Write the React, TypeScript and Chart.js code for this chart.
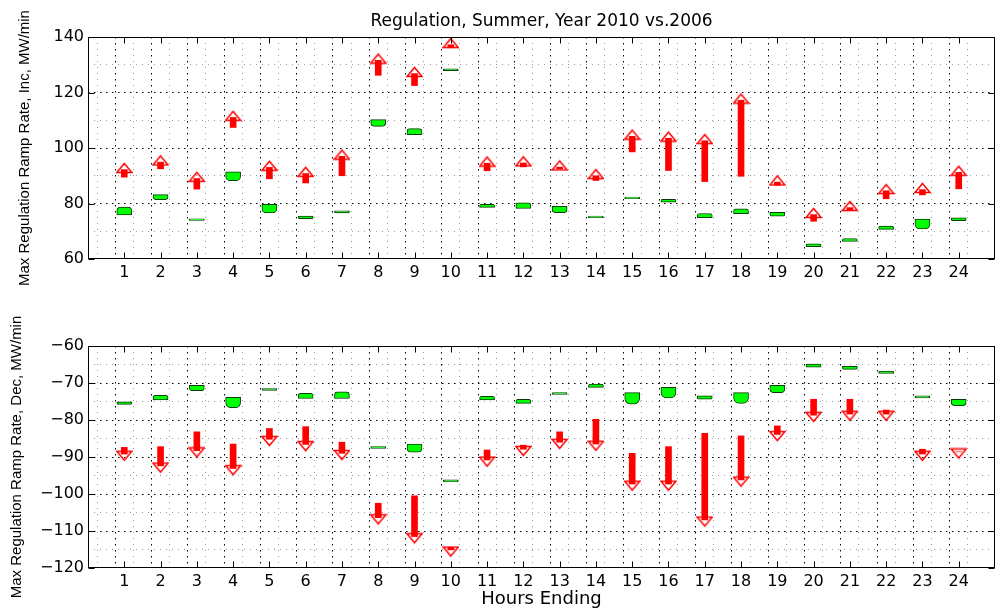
import React, { useEffect, useRef } from 'react';
import { Chart, registerables } from 'chart.js';

Chart.register(...registerables);

// ---------- data ----------
const HOURS = [1, 2, 3, 4, 5, 6, 7, 8, 9, 10, 11, 12, 13, 14, 15, 16, 17, 18, 19, 20, 21, 22, 23, 24];

const TITLE = 'Regulation, Summer, Year 2010 vs.2006';
const INC_Y_LABEL = 'Max Regulation Ramp Rate, Inc, MW/min';
const DEC_Y_LABEL = 'Max Regulation Ramp Rate, Dec, MW/min';
const X_LABEL = 'Hours Ending';

const INC_Y_TICKS = [60, 80, 100, 120, 140];
const DEC_Y_TICKS = [-120, -110, -100, -90, -80, -70, -60];

// green glyphs (start -> end, pointed side at end)
const INC_GREEN_START = [75.9, 83.2, 73.9, 91.4, 79.7, 75.5, 77.4, 110.2, 104.8, 127.9, 78.6, 78.2, 79.0, 74.9, 81.7, 80.5, 74.9, 76.3, 76.8, 64.4, 66.3, 70.7, 74.4, 74.8];
const INC_GREEN_END = [78.7, 81.4, 74.5, 88.2, 76.6, 74.5, 76.6, 107.8, 107.0, 128.5, 79.7, 80.2, 76.7, 75.5, 82.3, 81.5, 76.4, 78.1, 75.4, 65.5, 67.4, 71.9, 70.8, 73.8];

// red arrows (start -> tip)
const INC_RED_START = [89.5, 92.5, 85.2, 107.4, 88.9, 87.4, 90.0, 126.2, 122.5, 136.3, 91.8, 93.2, 92.4, 88.3, 98.6, 91.9, 87.9, 89.8, 86.6, 73.6, 77.6, 81.7, 83.1, 85.3];
const INC_RED_END = [94.6, 97.3, 91.4, 113.4, 95.4, 93.2, 99.4, 134.0, 129.2, 139.6, 96.9, 97.0, 95.5, 92.4, 106.6, 105.9, 105.0, 119.6, 90.1, 78.4, 80.9, 87.0, 87.4, 93.6];

const DEC_GREEN_START = [-75.1, -74.6, -70.6, -73.9, -71.5, -74.2, -74.2, -87.2, -86.5, -96.2, -74.6, -75.5, -73.1, -71.2, -72.6, -71.2, -73.5, -72.6, -70.6, -65.7, -65.5, -67.4, -73.5, -74.4];
const DEC_GREEN_END = [-75.8, -73.3, -72.1, -76.7, -72.0, -72.8, -72.4, -87.7, -88.7, -96.7, -73.6, -74.4, -72.6, -70.3, -75.7, -74.0, -74.4, -75.5, -72.6, -64.9, -66.3, -66.8, -74.0, -76.1];

const DEC_RED_START = [-87.4, -87.2, -83.2, -86.5, -82.3, -81.8, -86.0, -102.5, -100.5, -114.4, -88.1, -86.8, -83.2, -79.8, -89.0, -87.2, -83.6, -84.3, -81.6, -74.4, -74.4, -77.3, -87.9, -88.6];
const DEC_RED_END = [-91.0, -94.2, -90.1, -94.9, -87.0, -88.4, -90.8, -108.2, -113.3, -116.9, -92.6, -89.7, -87.8, -88.3, -99.1, -99.1, -108.8, -98.0, -85.7, -80.5, -80.2, -80.2, -91.0, -90.4];

// ---------- styling helpers ----------
const TICK_FONT = { family: 'DejaVu Sans', size: 16, weight: 'normal' as const };

function makeHead(up: boolean): HTMLCanvasElement {
  const c = document.createElement('canvas');
  c.width = 17;
  c.height = 22;
  const g = c.getContext('2d')!;
  g.strokeStyle = '#ff0000';
  g.lineWidth = 1.5;
  g.beginPath();
  if (up) {
    g.moveTo(8.5, 11.5);
    g.lineTo(16, 20.5);
    g.lineTo(1, 20.5);
  } else {
    g.moveTo(8.5, 10.5);
    g.lineTo(16, 1.5);
    g.lineTo(1, 1.5);
  }
  g.closePath();
  g.stroke();
  return c;
}

function fmtTick(v: number): string {
  return v < 0 ? '\u2212' + Math.abs(v) : String(v);
}

function boxPlugin(yMajor: number[]) {
  return {
    id: 'matlabBox',
    afterDraw(chart: any) {
      const { ctx, chartArea: a, scales } = chart;
      const x = scales.x;
      const y = scales.y;
      ctx.save();
      ctx.strokeStyle = '#000';
      ctx.lineWidth = 1;
      ctx.setLineDash([]);
      const L = Math.round(a.left) + 0.5;
      const R = Math.round(a.right) - 0.5;
      const T = Math.round(a.top) + 0.5;
      const B = Math.round(a.bottom) - 0.5;
      ctx.strokeRect(L, T, R - L, B - T);
      const len = 6;
      ctx.beginPath();
      HOURS.forEach((h) => {
        const px = Math.round(x.getPixelForValue(h)) + 0.5;
        ctx.moveTo(px, B);
        ctx.lineTo(px, B - len);
        ctx.moveTo(px, T);
        ctx.lineTo(px, T + len);
      });
      yMajor.forEach((v) => {
        const py = Math.round(y.getPixelForValue(v)) + 0.5;
        ctx.moveTo(L, py);
        ctx.lineTo(L + len, py);
        ctx.moveTo(R, py);
        ctx.lineTo(R - len, py);
      });
      ctx.stroke();
      ctx.restore();
    },
  };
}

interface PanelSpec {
  greenStart: number[];
  greenEnd: number[];
  redStart: number[];
  redEnd: number[];
  headDepth: number;
  up: boolean;
  yMin: number;
  yMax: number;
  yStep: number;
  yMajor: number[];
  yTitle: string;
  yTitlePad: number;
  showTitle: boolean;
  showXTitle: boolean;
  xAxisHeight: number;
  topPad: number;
}

function buildConfig(p: PanelSpec): any {
  const sign = p.up ? 1 : -1;
  const shaftEnd = p.redEnd.map((e, i) => {
    const s = p.redStart[i];
    const t = e - sign * p.headDepth;
    return sign * (t - s) > 0 ? t : s;
  });
  const head = makeHead(p.up);

  const greenData = HOURS.map((h, i) => ({ x: h, y: [p.greenStart[i], p.greenEnd[i]] }));
  const shaftData = HOURS.map((h, i) => ({ x: h, y: [p.redStart[i], shaftEnd[i]] }));
  const headData = HOURS.map((h, i) => ({ x: h, y: p.redEnd[i] }));

  const isMajorY = (v: number) => p.yMajor.includes(v);

  return {
    type: 'bar',
    data: {
      datasets: [
        {
          type: 'scatter',
          data: headData,
          pointStyle: head,
          pointRadius: 4,
          borderWidth: 0,
          showLine: false,
          order: 0,
        },
        {
          type: 'bar',
          data: shaftData,
          backgroundColor: '#ff0000',
          borderWidth: 0,
          barThickness: 6,
          grouped: false,
          borderSkipped: false,
          order: 1,
        },
        {
          type: 'bar',
          data: greenData,
          backgroundColor: '#00ff00',
          borderColor: '#0b3a0b',
          borderWidth: 1,
          barThickness: 15,
          grouped: false,
          borderSkipped: false,
          borderRadius: (ctx: any) => {
            const raw = ctx.raw;
            if (!raw || !Array.isArray(raw.y)) return 0;
            const pointedUp = raw.y[1] > raw.y[0];
            return pointedUp
              ? { topLeft: 6, topRight: 6, bottomLeft: 0, bottomRight: 0 }
              : { topLeft: 0, topRight: 0, bottomLeft: 6, bottomRight: 6 };
          },
          order: 2,
        },
      ],
    },
    options: {
      responsive: false,
      animation: false,
      devicePixelRatio: 1,
      events: [],
      layout: { padding: { left: 0, right: 7, top: p.topPad, bottom: 0 } },
      plugins: {
        legend: { display: false },
        tooltip: { enabled: false },
        title: {
          display: p.showTitle,
          text: TITLE,
          fullSize: false,
          color: '#000',
          font: { family: 'DejaVu Sans', size: 17, weight: 'normal' },
          padding: { top: 11, bottom: 5.6 },
        },
      },
      scales: {
        x: {
          type: 'linear',
          min: 0,
          max: 25,
          offset: false,
          afterFit: (scale: any) => {
            scale.height = p.xAxisHeight;
          },
          ticks: {
            stepSize: 0.5,
            autoSkip: false,
            maxRotation: 0,
            minRotation: 0,
            padding: 4,
            color: '#000',
            font: TICK_FONT,
            callback: (v: number) => (HOURS.includes(v) ? String(v) : ''),
          },
          grid: {
            drawTicks: false,
            lineWidth: 1,
            color: (ctx: any) => {
              const v = ctx.tick ? ctx.tick.value : NaN;
              if (v === 0 || v === 25) return 'rgba(0,0,0,0)';
              return HOURS.includes(v) ? '#000' : '#9a9a9a';
            },
          },
          border: {
            display: false,
            dash: (ctx: any) => {
              const v = ctx.tick ? ctx.tick.value : NaN;
              return HOURS.includes(v) ? [1.5, 4.5] : [1, 5];
            },
          },
          title: {
            display: p.showXTitle,
            text: X_LABEL,
            color: '#000',
            font: { family: 'DejaVu Sans', size: 18, weight: 'normal' },
            padding: { top: 0, bottom: 0 },
          },
        },
        y: {
          type: 'linear',
          min: p.yMin,
          max: p.yMax,
          afterFit: (scale: any) => {
            scale.width = 88;
          },
          ticks: {
            stepSize: p.yStep,
            autoSkip: false,
            padding: 4,
            color: '#000',
            font: TICK_FONT,
            callback: (v: number) => (isMajorY(v) ? fmtTick(v) : ''),
          },
          grid: {
            drawTicks: false,
            lineWidth: 1,
            color: (ctx: any) => {
              const v = ctx.tick ? ctx.tick.value : NaN;
              if (v === p.yMin || v === p.yMax) return 'rgba(0,0,0,0)';
              return isMajorY(v) ? '#000' : '#9a9a9a';
            },
          },
          border: {
            display: false,
            dash: (ctx: any) => {
              const v = ctx.tick ? ctx.tick.value : NaN;
              return isMajorY(v) ? [1.5, 4.5] : [1, 5];
            },
          },
          title: {
            display: true,
            text: p.yTitle,
            color: '#000',
            font: { family: 'Liberation Sans', size: 15, weight: 'normal' },
            padding: { top: p.yTitlePad, bottom: 0 },
          },
        },
      },
    },
    plugins: [boxPlugin(p.yMajor)],
  };
}

export default function App() {
  const topRef = useRef<HTMLCanvasElement>(null);
  const botRef = useRef<HTMLCanvasElement>(null);

  useEffect(() => {
    const top = new Chart(
      topRef.current!,
      buildConfig({
        greenStart: INC_GREEN_START,
        greenEnd: INC_GREEN_END,
        redStart: INC_RED_START,
        redEnd: INC_RED_END,
        headDepth: 2.4,
        up: true,
        yMin: 60,
        yMax: 140,
        yStep: 10,
        yMajor: INC_Y_TICKS,
        yTitle: INC_Y_LABEL,
        yTitlePad: 16,
        showTitle: true,
        showXTitle: false,
        xAxisHeight: 46,
        topPad: 0,
      })
    );
    const bottom = new Chart(
      botRef.current!,
      buildConfig({
        greenStart: DEC_GREEN_START,
        greenEnd: DEC_GREEN_END,
        redStart: DEC_RED_START,
        redEnd: DEC_RED_END,
        headDepth: 1.8,
        up: false,
        yMin: -120,
        yMax: -60,
        yStep: 5,
        yMajor: DEC_Y_TICKS,
        yTitle: DEC_Y_LABEL,
        yTitlePad: 8,
        showTitle: false,
        showXTitle: true,
        xAxisHeight: 42,
        topPad: 41,
      })
    );
    return () => {
      top.destroy();
      bottom.destroy();
    };
  }, []);

  return (
    <div style={{ position: 'absolute', left: 0, top: 0, width: 1002, height: 610, background: '#fff' }}>
      <canvas
        ref={topRef}
        width={1002}
        height={305}
        style={{ position: 'absolute', left: 0, top: 0, width: 1002, height: 305, display: 'block' }}
      />
      <canvas
        ref={botRef}
        width={1002}
        height={305}
        style={{ position: 'absolute', left: 0, top: 305, width: 1002, height: 305, display: 'block' }}
      />
    </div>
  );
}
